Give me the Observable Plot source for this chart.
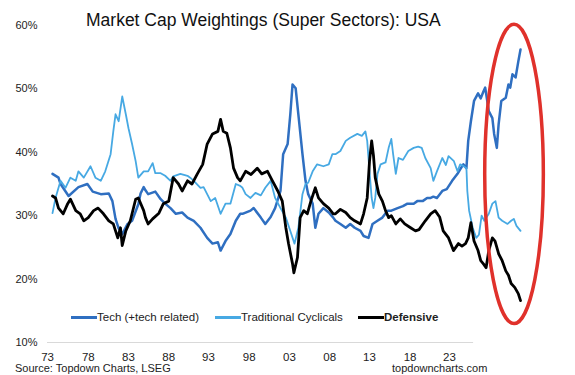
<!DOCTYPE html>
<html><head><meta charset="utf-8">
<script src="https://cdn.jsdelivr.net/npm/d3@7"></script>
<script src="https://cdn.jsdelivr.net/npm/@observablehq/plot@0.6"></script>
<style>
body{margin:0;background:#fff;font-family:"Liberation Sans",Arial,sans-serif;}
#wrap{position:relative;width:575px;height:375px;overflow:hidden;background:#fff;}
.abs{position:absolute;white-space:nowrap;line-height:1;color:#222;}
.item{display:flex;align-items:center;font-size:11.5px;height:11.5px;}
.sw{display:inline-block;width:26px;height:3px;}
</style></head><body><div id="wrap"></div>
<script>
const title = "Market Cap Weightings (Super Sectors): USA";
const seriesNames = ["Tech (+tech related)", "Traditional Cyclicals", "Defensive"];
const source = "Source: Topdown Charts, LSEG";
const site = "topdowncharts.com";
const yTicks = [10, 20, 30, 40, 50, 60];
const xTickPos = [1972.45, 1977, 1981.5, 1986, 1990.45, 1995, 1999.5, 2004, 2008.45, 2013, 2017.4];
const xTickLabels = ["73", "78", "83", "88", "93", "98", "03", "08", "13", "18", "23"];

// [year, % weight]
const tech = [[1973.0,36.6],[1973.67,36.0],[1973.9,35.0],[1974.8,33.1],[1975.9,34.5],[1976.9,35.0],[1977.5,33.8],[1978.4,33.4],[1979.3,33.5],[1979.7,32.3],[1980.05,29.5],[1980.4,28.0],[1980.8,27.1],[1981.4,28.7],[1981.9,29.2],[1982.6,31.8],[1982.85,33.5],[1983.2,34.5],[1983.4,34.0],[1983.7,33.4],[1984.5,33.8],[1985.1,32.6],[1985.6,31.9],[1986.2,31.2],[1986.8,30.3],[1987.5,30.5],[1988.1,29.7],[1988.8,29.2],[1989.55,28.1],[1990.3,26.5],[1990.9,25.6],[1991.5,25.8],[1991.8,24.5],[1992.35,26.0],[1992.9,27.1],[1993.5,29.2],[1994.0,30.3],[1994.25,30.3],[1995.15,30.8],[1995.5,31.2],[1996.3,29.7],[1996.8,28.7],[1997.4,29.8],[1997.9,31.2],[1998.5,33.9],[1998.8,39.7],[1999.3,41.3],[1999.6,46.0],[1999.85,50.7],[2000.2,50.1],[2000.5,46.0],[2000.96,39.7],[2001.3,35.5],[2001.6,33.4],[2002.1,31.9],[2002.4,28.1],[2002.75,30.3],[2003.3,31.2],[2003.9,30.5],[2004.4,29.7],[2004.65,29.2],[2005.2,28.7],[2005.8,28.1],[2006.3,28.7],[2006.8,28.1],[2007.45,27.6],[2007.8,26.8],[2008.35,26.5],[2008.8,28.7],[2009.35,29.2],[2009.9,29.7],[2010.5,30.8],[2010.9,30.8],[2011.6,31.2],[2012.2,31.5],[2012.7,31.9],[2013.4,31.9],[2013.8,32.3],[2014.4,32.3],[2014.9,32.8],[2015.3,32.8],[2015.6,33.0],[2016.0,32.8],[2016.6,33.9],[2017.1,34.2],[2017.7,35.5],[2018.3,36.6],[2018.6,37.3],[2018.95,38.1],[2019.3,37.5],[2019.5,41.8],[2019.8,44.9],[2020.15,48.1],[2020.6,49.3],[2020.9,48.5],[2021.2,49.6],[2021.4,50.2],[2021.8,46.5],[2022.2,45.4],[2022.4,42.9],[2022.7,40.7],[2022.9,44.4],[2023.2,48.1],[2023.7,48.6],[2024.0,50.7],[2024.2,50.2],[2024.45,52.3],[2024.8,51.8],[2025.1,54.3],[2025.35,56.2]];

const cyclicals = [[1973.0,30.4],[1973.34,32.8],[1973.9,35.5],[1974.45,34.4],[1975.0,36.0],[1975.6,35.5],[1975.9,37.0],[1976.5,36.0],[1977.25,37.8],[1977.8,36.0],[1978.4,35.5],[1978.9,37.0],[1979.5,39.7],[1979.8,43.3],[1980.05,46.0],[1980.4,44.9],[1980.8,48.8],[1981.2,46.0],[1981.5,43.8],[1981.9,41.3],[1982.3,38.6],[1982.6,36.0],[1983.2,37.0],[1983.7,37.0],[1984.2,38.3],[1984.5,36.7],[1985.1,36.7],[1985.6,36.3],[1986.2,35.5],[1986.5,36.2],[1987.3,36.6],[1988.1,36.3],[1988.4,36.0],[1988.8,35.5],[1989.55,34.4],[1989.9,34.5],[1990.7,32.3],[1991.2,32.8],[1991.8,30.3],[1992.35,31.9],[1992.9,31.9],[1993.5,35.0],[1994.0,34.7],[1994.25,34.4],[1994.6,33.4],[1995.15,32.8],[1995.7,33.6],[1996.3,33.2],[1996.8,34.4],[1997.4,35.5],[1997.9,32.8],[1998.5,31.2],[1999.1,29.7],[1999.6,27.6],[2000.07,25.6],[2000.5,28.1],[2000.96,33.4],[2001.3,35.0],[2001.6,35.2],[2002.1,37.0],[2002.6,38.1],[2003.3,37.8],[2003.9,38.1],[2004.3,39.7],[2004.65,39.7],[2005.2,40.2],[2005.8,41.8],[2006.3,42.3],[2007.1,42.9],[2007.6,42.6],[2008.0,43.3],[2008.2,41.8],[2008.46,37.0],[2008.7,32.8],[2008.9,31.2],[2009.1,32.8],[2009.35,36.6],[2009.7,38.1],[2010.25,38.4],[2010.6,40.7],[2010.9,42.1],[2011.1,39.7],[2011.4,36.6],[2011.7,39.1],[2012.2,38.8],[2012.8,40.2],[2013.4,40.7],[2013.9,40.9],[2014.3,40.7],[2014.7,39.1],[2015.3,37.5],[2015.6,35.5],[2016.0,37.0],[2016.6,39.1],[2017.0,38.0],[2017.3,39.4],[2017.9,38.6],[2018.3,37.0],[2018.6,38.1],[2019.0,37.8],[2019.3,37.5],[2019.4,33.9],[2019.6,30.8],[2020.0,28.1],[2020.4,26.5],[2020.7,27.0],[2021.0,30.0],[2021.3,29.2],[2021.8,30.3],[2022.2,31.9],[2022.55,32.3],[2022.9,29.7],[2023.3,29.2],[2023.9,28.7],[2024.3,29.2],[2024.6,29.5],[2024.9,28.4],[2025.35,27.6]];

const defensive = [[1973.0,33.1],[1973.34,32.8],[1973.67,31.2],[1974.2,30.3],[1974.7,31.9],[1975.0,32.6],[1975.6,30.8],[1976.1,30.3],[1976.5,29.2],[1977.0,29.7],[1977.6,30.8],[1978.1,31.2],[1978.7,30.3],[1979.3,29.2],[1979.8,28.7],[1980.3,26.5],[1980.6,28.1],[1980.8,25.3],[1981.2,27.6],[1981.7,29.2],[1982.3,32.6],[1982.6,32.8],[1983.2,30.8],[1983.4,29.7],[1983.7,28.7],[1984.2,29.5],[1984.9,30.4],[1985.4,31.9],[1986.0,32.3],[1986.5,36.0],[1987.1,35.0],[1987.5,33.9],[1988.1,35.5],[1988.6,35.0],[1989.2,36.6],[1989.8,38.1],[1990.3,41.3],[1990.9,42.9],[1991.5,43.3],[1991.8,45.2],[1992.1,43.3],[1992.5,43.0],[1992.9,40.7],[1993.25,37.5],[1993.7,36.0],[1994.0,35.5],[1994.6,37.0],[1995.2,36.5],[1995.9,37.5],[1996.4,36.6],[1997.05,37.0],[1997.6,35.5],[1998.2,33.9],[1998.7,32.3],[1999.1,28.1],[1999.4,25.6],[1999.85,22.4],[2000.0,21.0],[2000.4,23.4],[2000.7,29.7],[2001.1,30.8],[2001.5,30.3],[2001.9,32.3],[2002.4,34.4],[2002.75,32.8],[2003.3,31.9],[2003.9,31.2],[2004.4,30.3],[2004.65,30.3],[2005.2,31.0],[2005.8,30.5],[2006.3,29.7],[2006.8,29.2],[2007.45,28.7],[2007.8,30.3],[2008.2,32.8],[2008.46,38.6],[2008.7,41.8],[2008.9,39.5],[2009.1,36.0],[2009.5,33.4],[2009.9,32.3],[2010.25,30.8],[2010.6,29.7],[2010.9,30.0],[2011.4,28.7],[2011.9,29.5],[2012.4,28.7],[2013.05,28.1],[2013.6,27.6],[2014.0,27.8],[2014.7,29.2],[2015.3,30.3],[2015.8,30.8],[2016.3,29.8],[2016.7,27.6],[2017.3,26.5],[2017.85,24.5],[2018.4,25.6],[2018.8,25.2],[2019.2,25.6],[2019.5,26.5],[2019.8,28.9],[2020.15,26.0],[2020.6,24.5],[2020.9,22.9],[2021.2,22.4],[2021.5,21.8],[2021.8,24.5],[2022.2,26.5],[2022.5,26.0],[2022.9,24.0],[2023.3,22.9],[2023.7,21.3],[2024.0,20.6],[2024.3,19.3],[2024.7,18.7],[2025.1,17.7],[2025.35,16.6]];

// highlight ellipse annotation (data units)
const highlight = {year: 2024.68, value: 36.5, rYears: 3.28, rValue: 23.6};

const colors = ["#2f6fc1", "#47a9e3", "#000000"];
const widths = [2.5, 1.8, 2.8];
const seriesData = [tech, cyclicals, defensive];

const toRows = (arr) => arr.map(([year, value]) => ({year, value}));
const labelOf = new Map(xTickPos.map((p, i) => [p, xTickLabels[i]]));

const plot = Plot.plot({
  width: 575, height: 375,
  marginLeft: 47, marginRight: 54, marginTop: 25, marginBottom: 33,
  style: {fontFamily: "Liberation Sans, Arial, sans-serif", fontSize: "11.5px", color: "#222", background: "transparent"},
  x: {domain: [1972.44, 2025.46]},
  y: {domain: [10, 60]},
  marks: [
    Plot.ruleY([{y: 10, x1: 1972.44, x2: 2020.1}], {y: "y", x1: "x1", x2: "x2", stroke: "#d9d9d9", strokeWidth: 1}),
    Plot.axisY(yTicks, {tickSize: 0, tickPadding: 10, fontSize: 11, tickFormat: d => d + "%", label: null}),
    Plot.axisX(xTickPos, {tickSize: 0, tickPadding: 10, tickFormat: d => labelOf.get(d), label: null}),
    ...seriesData.map((s, i) => Plot.line(toRows(s), {x: "year", y: "value", stroke: colors[i], strokeWidth: widths[i], strokeLinejoin: "round"}))
  ]
});

const sx = plot.scale("x"), sy = plot.scale("y");
d3.select(plot).append("ellipse")
  .attr("cx", sx.apply(highlight.year))
  .attr("cy", sy.apply(highlight.value))
  .attr("rx", sx.apply(highlight.year + highlight.rYears) - sx.apply(highlight.year))
  .attr("ry", sy.apply(highlight.value - highlight.rValue) - sy.apply(highlight.value))
  .attr("fill", "none").attr("stroke", "#e0312b").attr("stroke-width", 3.5);

const wrap = document.getElementById("wrap");
wrap.appendChild(plot);
plot.style.position = "absolute"; plot.style.left = "0"; plot.style.top = "0";

function addDiv(html, css) {
  const d = document.createElement("div");
  d.className = "abs";
  d.innerHTML = html;
  Object.assign(d.style, css);
  wrap.appendChild(d);
  return d;
}
addDiv(title, {left: "86px", top: "12px", fontSize: "17.5px", color: "#111"});
const legendLeft = [71, 215, 358];
seriesNames.forEach((name, i) => {
  addDiv(`<div class="item"><span class="sw" style="background:${colors[i]}"></span><span style="${i === 2 ? 'font-weight:bold;' : ''}">${name}</span></div>`,
    {left: legendLeft[i] + "px", top: "312px"});
});
addDiv(source, {left: "15px", top: "362px", fontSize: "11px", lineHeight: "13px", height: "13px"});
addDiv(site, {left: "392px", top: "362px", fontSize: "11px", lineHeight: "13px", height: "13px"});
</script>
</body></html>
